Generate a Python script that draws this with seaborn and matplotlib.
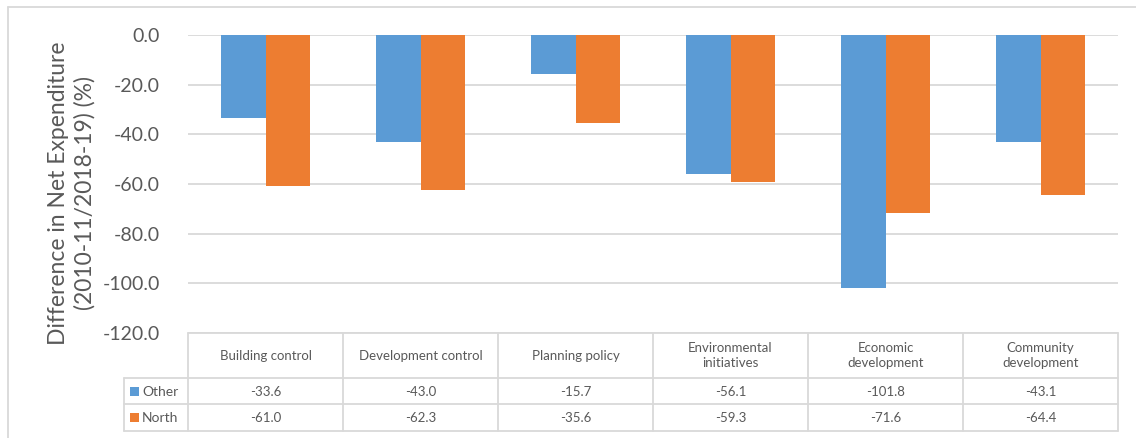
import matplotlib
matplotlib.use("Agg")
import matplotlib.pyplot as plt
from matplotlib.patches import Rectangle
import pandas as pd
import seaborn as sns

categories = ["Building control", "Development control", "Planning policy",
              "Environmental\ninitiatives", "Economic\ndevelopment", "Community\ndevelopment"]
series_names = ["Other", "North"]
other_values = [-33.6, -43.0, -15.7, -56.1, -101.8, -43.1]
north_values = [-61.0, -62.3, -35.6, -59.3, -71.6, -64.4]
series_colors = ["#5B9BD5", "#ED7D31"]
y_ticks = [0, -20, -40, -60, -80, -100, -120]

df = pd.DataFrame({
    "category": categories * 2,
    "series": [series_names[0]] * len(categories) + [series_names[1]] * len(categories),
    "value": other_values + north_values,
})

sns.set_theme(style="white")
plt.rcParams["font.family"] = ["Lato", "DejaVu Sans"]

W, H = 1136, 438
fig = plt.figure(figsize=(W / 100, H / 100), dpi=100)
fig.patch.set_facecolor("white")

def px(x, y):
    return x / W, 1 - y / H

ax_left, ax_right, ax_top, ax_bottom = 188, 1118, 35, 333
ax = fig.add_axes([ax_left / W, 1 - ax_bottom / H, (ax_right - ax_left) / W, (ax_bottom - ax_top) / H])

sns.barplot(data=df, x="category", y="value", hue="series", order=categories,
            hue_order=series_names, palette=series_colors, width=0.57,
            saturation=1, ax=ax, legend=False, edgecolor="none")

text_color = "#595959"
grid_color = "#D9D9D9"

ax.set_ylim(-120, 0)
ax.set_xlim(-0.5, len(categories) - 0.5)
ax.set_yticks(y_ticks)
ax.set_yticklabels([f"{v:.1f}" for v in y_ticks], fontsize=14, color=text_color)
ax.tick_params(axis="y", length=0, pad=20)
ax.set_xticks([])
ax.set_xlabel("")
ax.set_ylabel("")
for s in ax.spines.values():
    s.set_visible(False)
ax.set_axisbelow(True)
ax.yaxis.grid(True, color=grid_color, linewidth=1.3)
ax.patch.set_alpha(0)

# y-axis title
fig.text(*px(72, 193), "Difference in Net Expenditure\n(2010-11/2018-19) (%)",
         rotation=90, ha="center", va="center", fontsize=16.5, color=text_color,
         linespacing=1.3)

# data table below the plot
line_kw = dict(color=grid_color, linewidth=1.3, transform=fig.transFigure)
row_y = [333, 378, 404, 431]
col_x = [ax_left + i * (ax_right - ax_left) / len(categories) for i in range(len(categories) + 1)]
hdr_left = 124

def hline(x0, x1, y):
    fig.add_artist(plt.Line2D([x0 / W, x1 / W], [1 - y / H, 1 - y / H], **line_kw))

def vline(x, y0, y1):
    fig.add_artist(plt.Line2D([x / W, x / W], [1 - y0 / H, 1 - y1 / H], **line_kw))

hline(ax_left, ax_right, row_y[0])
for y in row_y[1:]:
    hline(hdr_left, ax_right, y)
for x in col_x:
    vline(x, row_y[0], row_y[3])
vline(hdr_left, row_y[1], row_y[3])

for i, cat in enumerate(categories):
    cx = (col_x[i] + col_x[i + 1]) / 2
    fig.text(*px(cx, (row_y[0] + row_y[1]) / 2), cat, ha="center", va="center",
             fontsize=9.5, color=text_color, linespacing=1.25)
    for r, vals in enumerate([other_values, north_values]):
        fig.text(*px(cx, (row_y[r + 1] + row_y[r + 2]) / 2 + 1), f"{vals[i]:.1f}",
                 ha="center", va="center", fontsize=9.5, color=text_color)

for r, (name, col) in enumerate(zip(series_names, series_colors)):
    yc = (row_y[r + 1] + row_y[r + 2]) / 2
    fig.add_artist(Rectangle(px(130, yc + 4.5), 9 / W, 9 / H, transform=fig.transFigure,
                             facecolor=col, edgecolor="none"))
    fig.text(*px(142, yc + 1), name, ha="left", va="center", fontsize=10, color=text_color)

# chart area border
hline(8, W + 5, 7)
vline(8, 7, H + 5)

fig.savefig("out.png", dpi=100, facecolor="white")
